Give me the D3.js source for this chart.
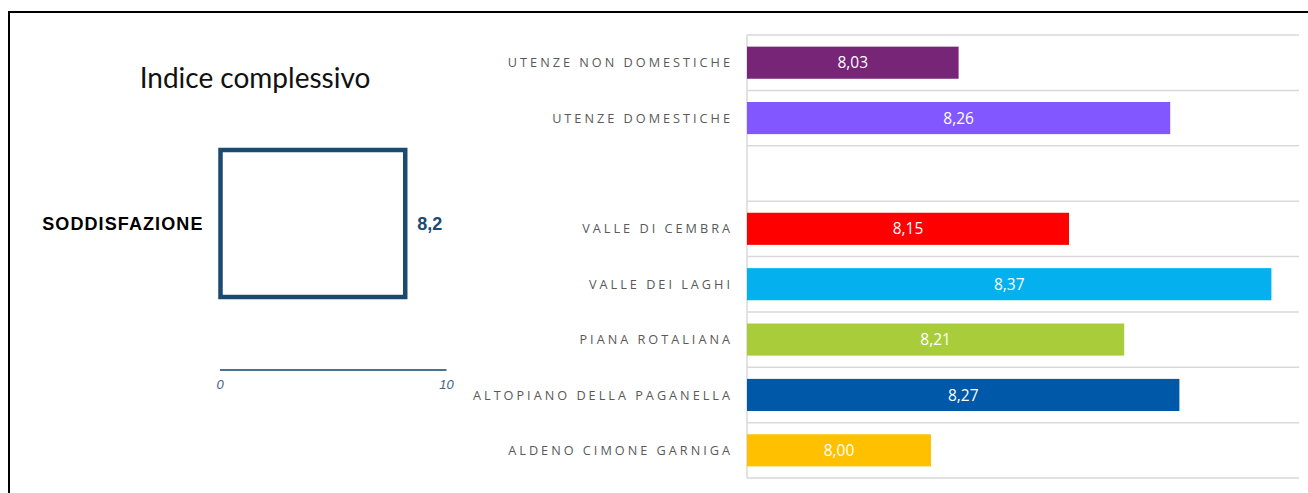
<!DOCTYPE html>
<html>
<head>
<meta charset="utf-8">
<script src="https://cdn.jsdelivr.net/npm/d3@7"></script>
<style>
  html, body { margin: 0; padding: 0; background: #fff; }
  svg { display: block; }
</style>
</head>
<body>
<svg id="chart" width="1308" height="493"></svg>
<script>
// left panel: overall index
const index_title = "Indice complessivo";
const index_labels = ["SODDISFAZIONE"];
const index_values = [8.2];
const index_ticks = [0, 10];

// right panel: breakdown (empty label = gap row)
const categories = [
  "UTENZE NON DOMESTICHE",
  "UTENZE DOMESTICHE",
  "",
  "VALLE DI CEMBRA",
  "VALLE DEI LAGHI",
  "PIANA ROTALIANA",
  "ALTOPIANO DELLA PAGANELLA",
  "ALDENO CIMONE GARNIGA",
];
const values = [8.03, 8.26, null, 8.15, 8.37, 8.21, 8.27, 8.0];
const bar_colors = [
  "#772577",
  "#8257ff",
  "#ffffff",
  "#ff0000",
  "#05b0ef",
  "#a9cd3a",
  "#0058a9",
  "#ffc000",
];

const fmt = (v, d) => v.toFixed(d).replace(".", ",");

const svg = d3.select("#chart");

// frame
svg
  .append("path")
  .attr("d", "M9,493V12H1308")
  .attr("fill", "none")
  .attr("stroke", "#000")
  .attr("stroke-width", 2);

// ---------- left panel ----------
const lx = d3.scaleLinear().domain([0, 10]).range([219.5, 446]);
const ly = d3.scaleBand().domain(index_labels).range([150, 297]);

svg
  .append("text")
  .attr("x", 255)
  .attr("y", 88)
  .attr("text-anchor", "middle")
  .attr("font-family", "Lato, sans-serif")
  .attr("font-size", 28)
  .attr("fill", "#111")
  .text(index_title);

const left = svg.append("g");

left
  .selectAll("rect")
  .data(index_values)
  .join("rect")
  .attr("x", lx(0) + 1)
  .attr("y", (d, i) => ly(index_labels[i]))
  .attr("width", (d) => lx(d) - lx(0) - 1)
  .attr("height", ly.bandwidth())
  .attr("fill", "#fff")
  .attr("stroke", "#1b4a71")
  .attr("stroke-width", 4.5);

left
  .selectAll("text.cat")
  .data(index_labels)
  .join("text")
  .attr("class", "cat")
  .attr("x", lx(0) - 16)
  .attr("y", (d) => ly(d) + ly.bandwidth() / 2)
  .attr("dy", "0.35em")
  .attr("text-anchor", "end")
  .attr("font-family", "'Liberation Sans', Arial, sans-serif")
  .attr("font-weight", "bold")
  .attr("font-size", 18)
  .attr("letter-spacing", 1.1)
  .attr("fill", "#000")
  .text((d) => d);

left
  .selectAll("text.val")
  .data(index_values)
  .join("text")
  .attr("class", "val")
  .attr("x", (d) => lx(d) + 12)
  .attr("y", (d, i) => ly(index_labels[i]) + ly.bandwidth() / 2)
  .attr("dy", "0.35em")
  .attr("font-family", "'Liberation Sans', Arial, sans-serif")
  .attr("font-weight", "bold")
  .attr("font-size", 18)
  .attr("fill", "#1b4a71")
  .text((d) => fmt(d, 1));

const left_axis = svg
  .append("g")
  .attr("transform", "translate(0,369.5)")
  .call(
    d3
      .axisBottom(lx)
      .tickValues(index_ticks)
      .tickSize(0)
      .tickPadding(10)
      .tickFormat(d3.format("d"))
  );
left_axis.select(".domain").attr("stroke", "#4a7392").attr("stroke-width", 2);
left_axis
  .selectAll("text")
  .attr("font-family", "'Liberation Sans', Arial, sans-serif")
  .attr("font-style", "italic")
  .attr("font-size", 13)
  .attr("fill", "#3f6687");

// ---------- right panel ----------
const x = d3.scaleLinear().domain([7.8, 8.4]).range([747, 1299]);
const y = d3
  .scaleBand()
  .domain(categories.map((c, i) => i))
  .range([35, 478])
  .paddingInner(0.42)
  .paddingOuter(0.21);

const step = y.step();
const pad = (step - y.bandwidth()) / 2;

// grid lines at band edges
const edges = categories.map((c, i) => y(i) - pad).concat([y.range()[1]]);
svg
  .append("g")
  .selectAll("line")
  .data(edges)
  .join("line")
  .attr("x1", x.range()[0])
  .attr("x2", x.range()[1])
  .attr("y1", (d) => d)
  .attr("y2", (d) => d)
  .attr("stroke", "#d9d9d9")
  .attr("stroke-width", 1.5);

svg
  .append("line")
  .attr("x1", x.range()[0])
  .attr("x2", x.range()[0])
  .attr("y1", y.range()[0])
  .attr("y2", y.range()[1])
  .attr("stroke", "#d9d9d9")
  .attr("stroke-width", 1.5);

const rows = categories.map((c, i) => ({ c, i, v: values[i], color: bar_colors[i] }));
const filled = rows.filter((r) => r.v != null);

svg
  .append("g")
  .selectAll("rect")
  .data(filled)
  .join("rect")
  .attr("x", x(7.8))
  .attr("y", (d) => y(d.i))
  .attr("width", (d) => x(d.v) - x(7.8))
  .attr("height", y.bandwidth())
  .attr("fill", (d) => d.color);

svg
  .append("g")
  .selectAll("text")
  .data(filled)
  .join("text")
  .attr("x", (d) => (x(7.8) + x(d.v)) / 2)
  .attr("y", (d) => y(d.i) + y.bandwidth() / 2)
  .attr("dy", "0.36em")
  .attr("text-anchor", "middle")
  .attr("font-family", "'Open Sans', sans-serif")
  .attr("font-size", 15.5)
  .attr("fill", "#fff")
  .text((d) => fmt(d.v, 2));

// category labels
svg
  .append("g")
  .selectAll("text")
  .data(rows.filter((r) => r.c !== ""))
  .join("text")
  .attr("x", x.range()[0] - 14)
  .attr("y", (d) => y(d.i) + y.bandwidth() / 2)
  .attr("dy", "0.36em")
  .attr("text-anchor", "end")
  .attr("font-family", "'Open Sans', sans-serif")
  .attr("font-size", 12.7)
  .attr("letter-spacing", 3)
  .attr("fill", "#595959")
  .text((d) => d.c);
</script>
</body>
</html>
